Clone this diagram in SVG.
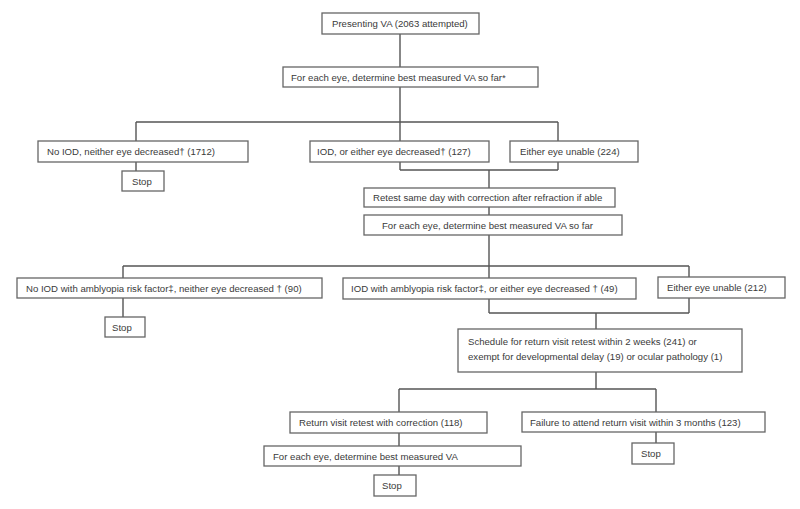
<svg xmlns="http://www.w3.org/2000/svg" width="800" height="509" viewBox="0 0 800 509">
<style>
.box{fill:#fff;stroke:#666;stroke-width:1.3}
.t{font-family:"Liberation Sans",Arial,sans-serif;font-size:9.6px;fill:#3a3a3a}
.c{fill:none;stroke:#555;stroke-width:1.4}
</style>
<rect x="0" y="0" width="800" height="509" fill="#fff"/>
<g id="connectors">
<path class="c" d="M400,34V67M400,87V122M136,122H558M136,122V141M400,122V141M558,122V141M136,162V171"/>
<path class="c" d="M400,162V170M558,162V170M400,170H558M489,170V188M489,207V215M489,235V266"/>
<path class="c" d="M123,266H689M123,266V278M489,266V278M689,266V277M123,298V317"/>
<path class="c" d="M489,299V313M689,298V313M489,313H689M596,313V329M596,372V389M399,389H656M399,389V412M656,389V412"/>
<path class="c" d="M399,433V446M399,466V475M656,432V443"/>
</g>
<g id="n1"><rect class="box" x="322" y="13" width="157" height="21"/><text class="t" x="332" y="27">Presenting VA (2063 attempted)</text></g>
<g id="n2"><rect class="box" x="283" y="67" width="255" height="20"/><text class="t" x="291" y="80.5">For each eye, determine best measured VA so far*</text></g>
<g id="n3"><rect class="box" x="38" y="141" width="210" height="21"/><text class="t" x="47" y="155">No IOD, neither eye decreased† (1712)</text></g>
<g id="n4"><rect class="box" x="310" y="141" width="179" height="21"/><text class="t" x="317" y="155">IOD, or either eye decreased† (127)</text></g>
<g id="n5"><rect class="box" x="510" y="141" width="128" height="21"/><text class="t" x="520" y="155">Either eye unable (224)</text></g>
<g id="n6"><rect class="box" x="122" y="171" width="42" height="20"/><text class="t" x="132" y="184.5">Stop</text></g>
<g id="n7"><rect class="box" x="364" y="188" width="251" height="19"/><text class="t" x="373" y="201">Retest same day with correction after refraction if able</text></g>
<g id="n8"><rect class="box" x="364" y="215" width="258" height="20"/><text class="t" x="382" y="228.5">For each eye, determine best measured VA so far</text></g>
<g id="n9"><rect class="box" x="17" y="278" width="305" height="20"/><text class="t" x="26" y="291.5">No IOD with amblyopia risk factor‡, neither eye decreased † (90)</text></g>
<g id="n10"><rect class="box" x="343" y="278" width="293" height="21"/><text class="t" x="351" y="292">IOD with amblyopia risk factor‡, or either eye decreased † (49)</text></g>
<g id="n11"><rect class="box" x="658" y="277" width="127" height="21"/><text class="t" x="667" y="291">Either eye unable (212)</text></g>
<g id="n12"><rect class="box" x="105" y="317" width="40" height="20"/><text class="t" x="112" y="330.5">Stop</text></g>
<g id="n13"><rect class="box" x="458" y="329" width="284" height="43"/><text class="t" x="468" y="345">Schedule for return visit retest within 2 weeks (241) or</text><text class="t" x="468" y="360">exempt for developmental delay (19) or ocular pathology (1)</text></g>
<g id="n14"><rect class="box" x="290" y="412" width="197" height="21"/><text class="t" x="299" y="426">Return visit retest with correction (118)</text></g>
<g id="n15"><rect class="box" x="522" y="412" width="243" height="20"/><text class="t" x="530" y="425.5">Failure to attend return visit within 3 months (123)</text></g>
<g id="n16"><rect class="box" x="264" y="446" width="257" height="20"/><text class="t" x="273" y="459.5">For each eye, determine best measured VA</text></g>
<g id="n17"><rect class="box" x="374" y="475" width="42" height="21"/><text class="t" x="382" y="489">Stop</text></g>
<g id="n18"><rect class="box" x="632" y="443" width="42" height="21"/><text class="t" x="641" y="457">Stop</text></g>
</svg>
